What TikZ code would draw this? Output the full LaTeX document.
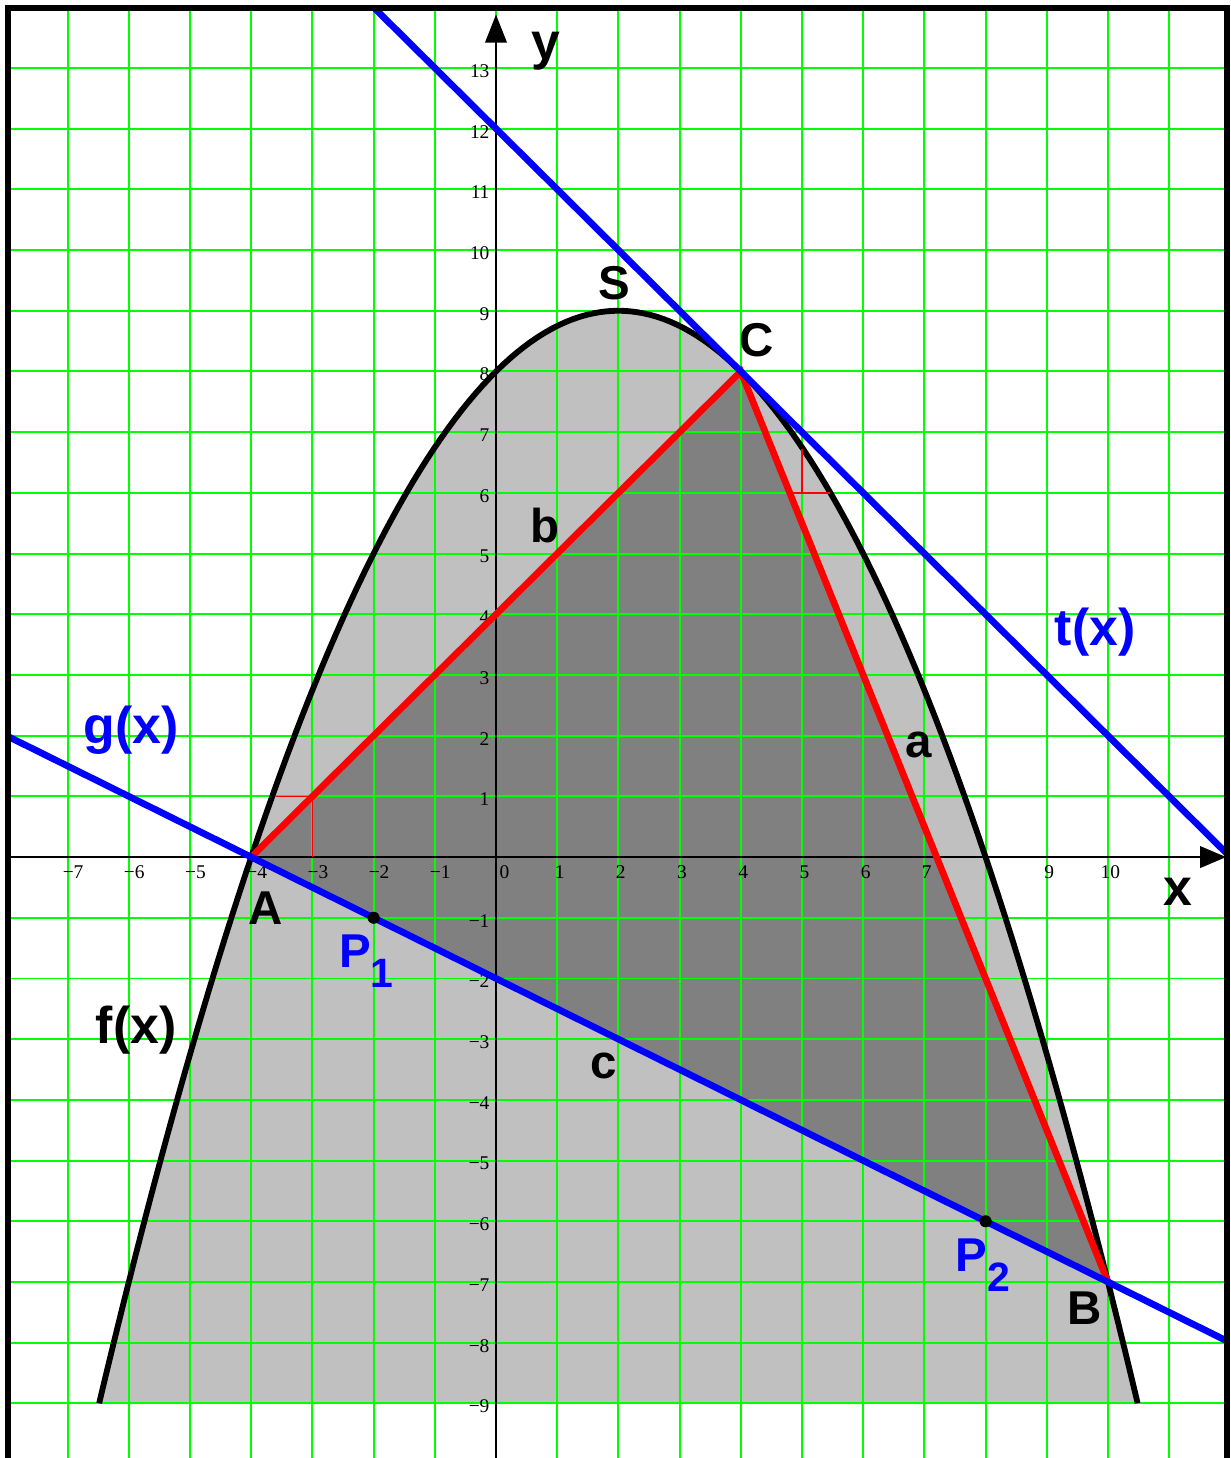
\documentclass[tikz,border=0pt]{standalone}
\usepackage{fontspec}
\setmainfont{Liberation Sans}
\newfontfamily\tickfont{Liberation Serif}
\usepackage{tikz}
\usetikzlibrary{arrows.meta}

\definecolor{gridgreen}{RGB}{0,255,0}
\definecolor{lightfill}{RGB}{192,192,192}
\definecolor{darkfill}{RGB}{128,128,128}
\definecolor{fnblue}{RGB}{0,0,255}
\definecolor{fnred}{RGB}{255,0,0}

\newcommand{\lowsub}[1]{\raisebox{-0.42em}{\fontsize{19}{19}\selectfont #1}}

\begin{document}
\begin{tikzpicture}[
    x=0.9968cm, y=0.9887cm,
    gridline/.style={gridgreen, line width=0.9pt},
    axisline/.style={black, line width=0.8pt},
    frameline/.style={black, line width=2.6pt},
    curve/.style={black, line width=2.7pt},
    redline/.style={fnred, line width=3.1pt},
    slopeline/.style={fnred, line width=0.6pt},
    blueline/.style={fnblue, line width=3.1pt},
    xtick/.style={anchor=north, inner sep=0pt, font=\tickfont\fontsize{9}{10}\selectfont},
    ytick/.style={anchor=east, inner sep=0pt, font=\tickfont\fontsize{9}{10}\selectfont},
    ptlabel/.style={font=\fontsize{22}{24}\selectfont\bfseries},
    fnlabel/.style={font=\fontsize{24}{26}\selectfont\bfseries}
]
\useasboundingbox (-8.105,-9.90) rectangle (12.01,14.12);

% points
\coordinate (A) at (-4,0);
\coordinate (B) at (10,-7);
\coordinate (C) at (4,8);
\coordinate (P1) at (-2,-1);
\coordinate (P2) at (8,-6);
\coordinate (tstart) at (-1.99,13.99);
\coordinate (tend) at (11.94,0.06);
\coordinate (gstart) at (-7.97,1.985);
\coordinate (gend) at (11.94,-7.97);

% areas
\fill[lightfill] plot[domain=-6.485:10.485, samples=150] (\x,{9-(\x-2)^2/4}) -- cycle;
\fill[darkfill] (A) -- (C) -- (B) -- cycle;

% grid
\foreach \i in {-7,...,11}
  \draw[gridline] (\i,-10.5) -- (\i,13.99);
\foreach \j in {-9,...,13}
  \draw[gridline] (-7.97,\j) -- (11.94,\j);

% axes
\coordinate (xl) at (-7.97,0);
\coordinate (xr) at (11.93,0);
\coordinate (yb) at (0,-10.5);
\coordinate (yt) at (0,13.88);
\draw[axisline, -{Triangle[length=12pt, width=10pt]}] (xl) -- (xr);
\draw[axisline, -{Triangle[length=13pt, width=10pt]}] (yb) -- (yt);
\node[fnlabel] (xlab) at (11.14,-0.58) {x};
\node[fnlabel] (ylab) at (0.82,13.28) {y};

% tick labels
\foreach \i in {-7,...,-1}
  \node[xtick] at (\i+0.09,-0.13) {−\the\numexpr-\i\relax};
\node[xtick] at (0.14,-0.13) {0};
\foreach \i in {1,...,7,9,10}
  \node[xtick] at (\i+0.04,-0.13) {\i};
\foreach \j in {1,...,13}
  \node[ytick] at (-0.1,\j-0.05) {\j};
\foreach \j in {-9,...,-1}
  \node[ytick] at (-0.1,\j-0.05) {−\the\numexpr-\j\relax};

% parabola f
\draw[curve] plot[domain=-6.485:10.485, samples=150] (\x,{9-(\x-2)^2/4});

% slope marks
\draw[slopeline] (-3.6,1) -- (-3,1) -- (-3,0);
\draw[slopeline] (4.8,6) -- (5.45,6);
\draw[slopeline] (5,6) -- (5,6.72);

% triangle sides
\draw[redline] (A) -- (C) -- (B);

% tangent t and line g
\draw[blueline] (tstart) -- (tend);
\draw[blueline] (gstart) -- (gend);

% points on g
\fill (P1) circle (2.8pt);
\fill (P2) circle (2.8pt);

% labels
\node[ptlabel] (labS) at (1.93,9.46) {S};
\node[ptlabel] (labC) at (4.26,8.52) {C};
\node[ptlabel] (labA) at (-3.76,-0.84) {A};
\node[ptlabel] (labB) at (9.62,-7.43) {B};
\node[ptlabel] (laba) at (6.91,1.85) {a};
\node[ptlabel] (labb) at (0.80,5.47) {b};
\node[ptlabel] (labc) at (1.76,-3.44) {c};
\node[ptlabel, fnblue] (labP1) at (-2.12,-1.72) {P\lowsub{1}};
\node[ptlabel, fnblue] (labP2) at (7.96,-6.72) {P\lowsub{2}};
\node[fnlabel] (labf) at (-5.88,-2.85) {f(x)};
\node[fnlabel, fnblue] (labg) at (-5.96,2.09) {g(x)};
\node[fnlabel, fnblue] (labt) at (9.79,3.70) {t(x)};

% frame
\draw[frameline] (-7.97,-10.5) -- (-7.97,13.99) -- (11.94,13.99) -- (11.94,-10.5);
\end{tikzpicture}
\end{document}
